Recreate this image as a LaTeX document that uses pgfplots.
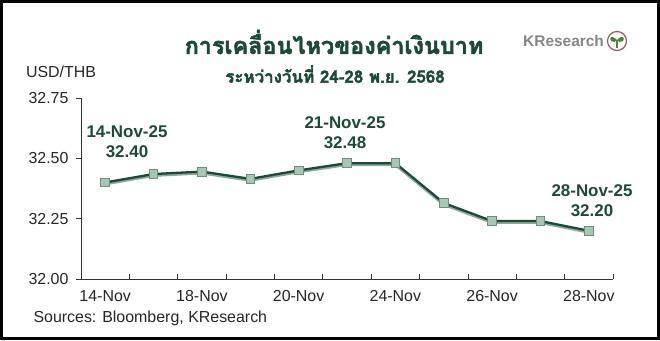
\documentclass[border=0pt]{standalone}
\usepackage{pgfplots}
\pgfplotsset{compat=1.18}
\usepackage{fontspec}
\setmainfont{Liberation Sans}
\newfontfamily\thaifont[Script=Thai, FakeBold=2]{Loma}
\definecolor{dkgreen}{HTML}{1B4A38}
\definecolor{mkfill}{HTML}{A6C6B6}
\definecolor{mkdraw}{HTML}{6E8E7E}
\definecolor{shadowc}{HTML}{8AAA9A}
\definecolor{logogray}{HTML}{858585}
\definecolor{logored}{HTML}{9A5A5A}
\definecolor{logogreen}{HTML}{3E8A3E}
\begin{document}
\begin{tikzpicture}[x=1bp,y=1bp]
\useasboundingbox (0,0) rectangle (660,340);
\fill[white] (0,0) rectangle (660,340);
\begin{axis}[at={(81bp,61bp)}, anchor=south west, scale only axis,
  width=532bp, height=181bp,
  xmin=-0.5, xmax=10.5, ymin=32, ymax=32.75,
  axis lines*=left,
  axis line style={black!80, line width=0.8bp},
  xtick={0,2,4,6,8,10},
  xticklabels={14-Nov,18-Nov,20-Nov,24-Nov,26-Nov,28-Nov},
  major x tick style={draw=none},
  minor xtick={-0.5,0.5,...,10.5},
  minor tick length=5bp,
  major tick length=5bp,
  tick align=outside,
  minor x tick style={black!80, line width=0.8bp, yshift=5bp},
  ytick style={black!80, line width=0.8bp},
  ytick={32,32.25,32.5,32.75},
  yticklabel style={xshift=-4bp, /pgf/number format/.cd, fixed, fixed zerofill, precision=2},
  /pgf/number format/assume math mode=true,
  tick label style={font=\fontsize{16}{16}\selectfont, text=black!85},
  xticklabel style={yshift=-3bp},
  clip=false,
]
\addplot[shadowc, line width=3.2bp, yshift=-1.3bp] coordinates {
(0,32.40) (1,32.435) (2,32.445) (3,32.415) (4,32.45) (5,32.48) (6,32.48) (7,32.315) (8,32.24) (9,32.24) (10,32.20)};
\addplot[dkgreen, line width=2.3bp, mark=square*, mark size=4.3bp,
  mark options={fill=mkfill, draw=mkdraw, line width=0.8bp}] coordinates {
(0,32.40) (1,32.435) (2,32.445) (3,32.415) (4,32.45) (5,32.48) (6,32.48) (7,32.315) (8,32.24) (9,32.24) (10,32.20)};
\end{axis}
% annotations
\node[align=center, text=dkgreen, font=\bfseries\fontsize{17}{20}\selectfont] at (127,198) {14-Nov-25\\32.40};
\node[align=center, text=dkgreen, font=\bfseries\fontsize{17}{20}\selectfont] at (345,207) {21-Nov-25\\32.48};
\node[align=center, text=dkgreen, font=\bfseries\fontsize{17}{20}\selectfont] at (592,139) {28-Nov-25\\32.20};
% titles
\node[text=dkgreen] at (334,298) {\thaifont\bfseries\fontsize{23.5}{23.5}\selectfont การเคลื่อนไหวของค่าเงินบาท};
\node[text=dkgreen] at (335,266) {\thaifont\bfseries\fontsize{17}{17}\selectfont ระหว่างวันที่ 24-28 พ.ย. 2568};
\node[font=\fontsize{16}{16}\selectfont, text=black!85] at (61,268) {USD/THB};
\node[anchor=west, font=\fontsize{16}{16}\selectfont, text=black!85] at (30,22) {Sources: Bloomberg, KResearch};
% logo
\node[anchor=west, inner sep=0, text=logogray, font=\bfseries\fontsize{15.5}{15.5}\selectfont] at (523,299) {KResearch};
\draw[logored, line width=1.2bp] (617,299) circle (9.5);
\draw[logogreen, line width=1.8bp] (617,292) -- (617,300);
\fill[logogreen] (617,300) .. controls (611,306) and (609,302) .. (611,299) .. controls (613,297) and (616,298) .. (617,300);
\fill[logogreen] (617,300) .. controls (623,306) and (625,302) .. (623,299) .. controls (621,297) and (618,298) .. (617,300);
% frame
\draw[black, line width=3bp] (1.5,1.5) rectangle (658.5,338.5);
\end{tikzpicture}
\end{document}
